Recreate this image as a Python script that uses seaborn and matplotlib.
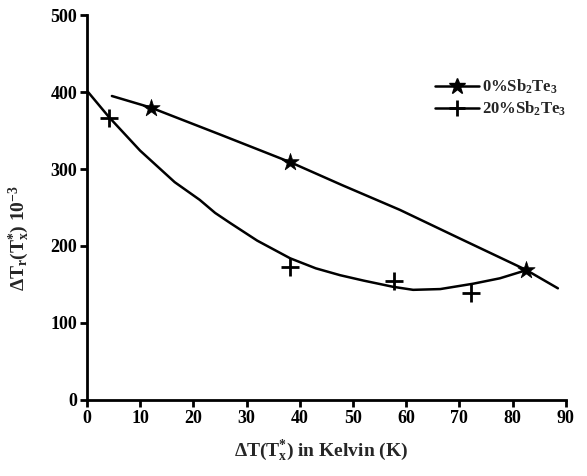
import matplotlib
matplotlib.use("Agg")
import matplotlib.pyplot as plt
import seaborn as sns
from matplotlib.lines import Line2D

# measured points
star_x = [12.0, 38.2, 82.5]
star_y = [380, 309, 169]
plus_x = [4.1, 38.2, 57.7, 72.2]
plus_y = [367, 173, 155, 139]

# fitted curves
star_fit_x = [4.7, 12.0, 25.0, 38.2, 48.0, 58.8, 70.0, 82.5, 88.5]
star_fit_y = [395, 380, 345, 309, 279, 247, 210, 169, 145]
plus_fit_x = [0, 4.1, 10, 16.5, 21.2, 24.1, 26.9, 32, 38.2, 43, 47.6, 52,
              57.5, 61.3, 66.4, 72.6, 77.6, 82.3]
plus_fit_y = [402, 368, 324, 283, 260, 243, 230, 207, 184, 171, 162, 155,
              147, 143, 144, 151, 158, 168]

label_star = r"0%Sb$_2$Te$_3$"
label_plus = r"20%Sb$_2$Te$_3$"

sns.set_style("ticks")
plt.rcParams["font.family"] = ["Liberation Serif", "DejaVu Serif"]
plt.rcParams["font.weight"] = "bold"
plt.rcParams["mathtext.fontset"] = "custom"
plt.rcParams["mathtext.rm"] = "Liberation Serif:bold"
plt.rcParams["mathtext.it"] = "Liberation Serif:bold"
plt.rcParams["mathtext.bf"] = "Liberation Serif:bold"
plt.rcParams["mathtext.default"] = "rm"

fig = plt.figure(figsize=(5.87, 4.76), dpi=100)
ax = fig.add_axes([0.148, 0.160, 0.816, 0.808])

sns.lineplot(x=star_fit_x, y=star_fit_y, ax=ax, color="black", lw=1.8, sort=False)
sns.lineplot(x=plus_fit_x, y=plus_fit_y, ax=ax, color="black", lw=1.8, sort=False)
sns.scatterplot(x=star_x, y=star_y, ax=ax, marker="*", s=170, color="black",
                edgecolor="black", linewidth=0.5, zorder=5)
sns.scatterplot(x=plus_x, y=plus_y, ax=ax, marker="+", s=150, color="black",
                linewidth=2.0, zorder=5)

ax.set_xlim(0, 90)
ax.set_ylim(0, 500)
ax.set_xticks(range(0, 91, 10))
ax.set_yticks(range(0, 501, 100))
sns.despine(ax=ax)
for s in ["left", "bottom"]:
    ax.spines[s].set_linewidth(2.0)
    ax.spines[s].set_color("black")
ax.tick_params(axis="both", direction="out", length=5, width=2, labelsize=13,
               colors="black", pad=2)
for lab in ax.get_xticklabels() + ax.get_yticklabels():
    lab.set_fontweight("bold")

ax.set_xlabel(r"ΔT(T$^{*}_{x}$) in Kelvin (K)", fontsize=14, fontweight="bold")
ax.set_ylabel(r"ΔT$_{r}$(T$^{*}_{x}$) 10$^{-3}$", fontsize=14, fontweight="bold")
ax.xaxis.set_label_coords(0.489, -0.10)
ax.yaxis.set_label_coords(-0.115, 0.42)

handles = [
    Line2D([], [], color="black", lw=1.8, marker="*", markersize=12),
    Line2D([], [], color="black", lw=1.8, marker="+", markersize=12, markeredgewidth=2),
]
ax.legend(handles, [label_star, label_plus], loc="upper left",
          bbox_to_anchor=(0.71, 0.86), frameon=False,
          handlelength=2.6, handletextpad=0.2, borderpad=0, labelspacing=0.25,
          prop={"family": "Liberation Serif", "weight": "bold", "size": 12})

fig.savefig("out.png", dpi=100)
